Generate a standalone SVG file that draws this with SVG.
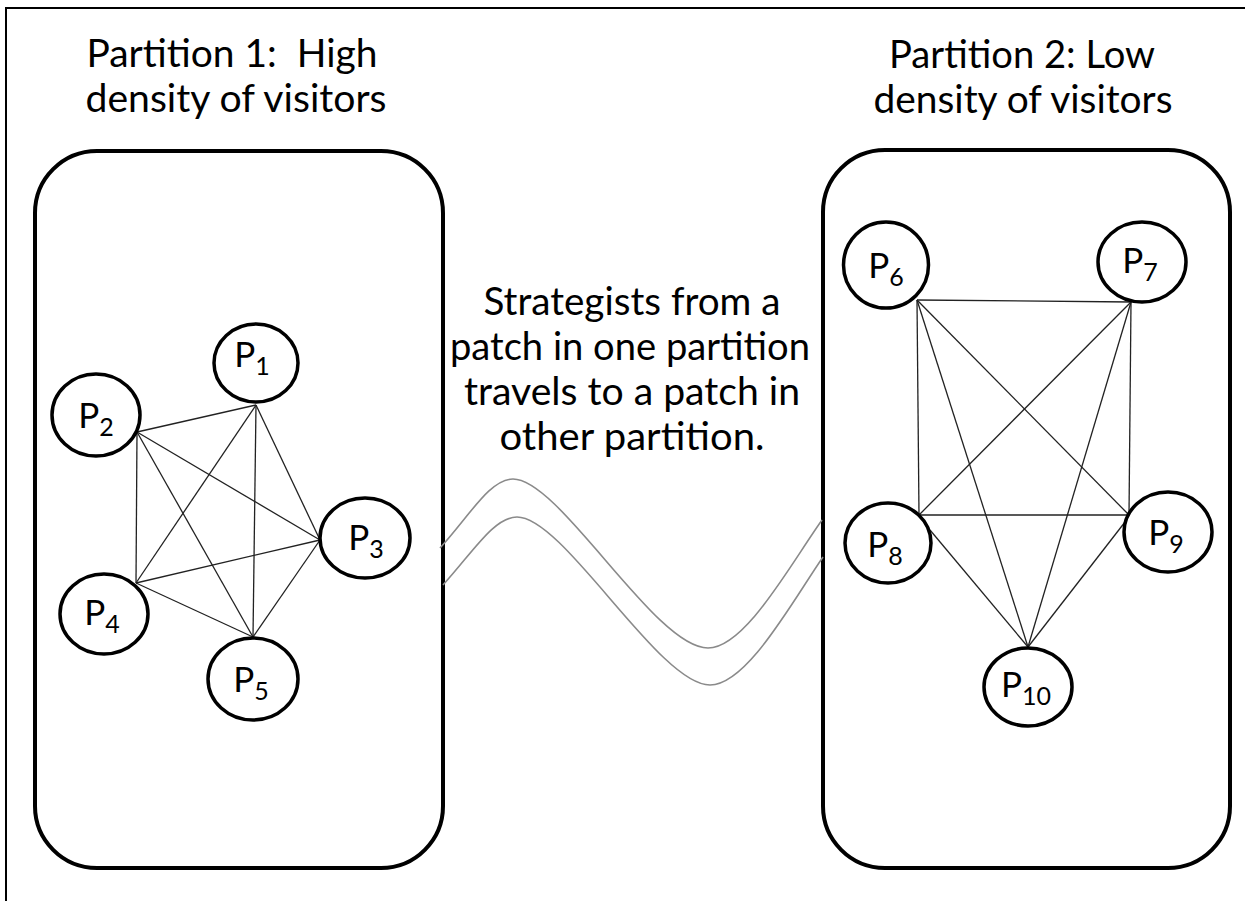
<svg xmlns="http://www.w3.org/2000/svg" width="1245" height="901" viewBox="0 0 1245 901">
<style>
.frame{fill:none;stroke:#000;stroke-width:2}
.box{fill:none;stroke:#000;stroke-width:4}
.node{fill:#fff;stroke:#000;stroke-width:3.5}
.edge{stroke:#222;stroke-width:1.3;fill:none}
.wave{stroke:#8a8a8a;stroke-width:1.6;fill:none}
.title{font-family:Lato,'Liberation Sans',sans-serif;font-size:38px;fill:#000}
.lbl{font-family:Lato,'Liberation Sans',sans-serif;font-size:35px;fill:#000;text-anchor:middle}
.sub{font-size:25px}
</style>
<rect width="1245" height="901" fill="#fff"/>
<path class="frame" d="M6,901 V8 H1245"/>
<g id="partition1">
<rect class="box" x="35" y="151" width="408" height="717" rx="62" ry="62"/>
<text class="title" xml:space="preserve" x="232" y="67" text-anchor="middle" textLength="291" lengthAdjust="spacingAndGlyphs">Partition 1:  High</text>
<text class="title" x="236" y="112" text-anchor="middle" textLength="301" lengthAdjust="spacingAndGlyphs">density of visitors</text>
</g>
<g id="partition2">
<rect class="box" x="823" y="150" width="407" height="718" rx="62" ry="62"/>
<text class="title" x="1022" y="68" text-anchor="middle" textLength="266" lengthAdjust="spacingAndGlyphs">Partition 2: Low</text>
<text class="title" x="1023" y="113" text-anchor="middle" textLength="299" lengthAdjust="spacingAndGlyphs">density of visitors</text>
</g>
<g id="caption">
<text class="title" x="632" y="315" text-anchor="middle" textLength="297" lengthAdjust="spacingAndGlyphs">Strategists from a</text>
<text class="title" x="630" y="360" text-anchor="middle" textLength="360" lengthAdjust="spacingAndGlyphs">patch in one partition</text>
<text class="title" x="632" y="405" text-anchor="middle" textLength="336" lengthAdjust="spacingAndGlyphs">travels to a patch in</text>
<text class="title" x="632" y="450" text-anchor="middle" textLength="265" lengthAdjust="spacingAndGlyphs">other partition.</text>
</g>
<g id="connectors">
<line class="edge" x1="256" y1="405" x2="137" y2="432"/>
<line class="edge" x1="256" y1="405" x2="320" y2="540"/>
<line class="edge" x1="256" y1="405" x2="136" y2="583"/>
<line class="edge" x1="256" y1="405" x2="253" y2="637"/>
<line class="edge" x1="137" y1="432" x2="136" y2="583"/>
<line class="edge" x1="137" y1="432" x2="320" y2="540"/>
<line class="edge" x1="137" y1="432" x2="253" y2="637"/>
<line class="edge" x1="136" y1="583" x2="320" y2="540"/>
<line class="edge" x1="136" y1="583" x2="253" y2="637"/>
<line class="edge" x1="320" y1="540" x2="253" y2="637"/>
<line class="edge" x1="917" y1="300" x2="1131" y2="302"/>
<line class="edge" x1="917" y1="300" x2="919" y2="515"/>
<line class="edge" x1="917" y1="300" x2="1129" y2="515"/>
<line class="edge" x1="917" y1="300" x2="1028" y2="647"/>
<line class="edge" x1="1131" y1="302" x2="1129" y2="515"/>
<line class="edge" x1="1131" y1="302" x2="919" y2="515"/>
<line class="edge" x1="1131" y1="302" x2="1028" y2="647"/>
<line class="edge" x1="919" y1="515" x2="1129" y2="515"/>
<line class="edge" x1="930" y1="530" x2="1028" y2="647"/>
<line class="edge" x1="1125" y1="522" x2="1028" y2="647"/>
<path class="wave" d="M440,548 C470,515 490,479 513,479 C560,479 655,648 708,648 C745,648 790,565 822,520"/>
<path class="wave" d="M443,585 C473,552 494,517 517,517 C564,517 659,685 710,685 C747,685 792,602 823,557"/>
</g>
<g id="P1"><ellipse class="node" cx="256" cy="363" rx="42" ry="39"/><text class="lbl" x="252" y="367">P<tspan class="sub" dy="8">1</tspan></text></g>
<g id="P2"><ellipse class="node" cx="96" cy="415" rx="44" ry="41"/><text class="lbl" x="96" y="428">P<tspan class="sub" dy="8">2</tspan></text></g>
<g id="P3"><ellipse class="node" cx="365" cy="538" rx="45" ry="40"/><text class="lbl" x="366" y="550">P<tspan class="sub" dy="8">3</tspan></text></g>
<g id="P4"><ellipse class="node" cx="104" cy="614" rx="44" ry="40"/><text class="lbl" x="102" y="625">P<tspan class="sub" dy="8">4</tspan></text></g>
<g id="P5"><ellipse class="node" cx="253" cy="679" rx="45" ry="41"/><text class="lbl" x="251" y="692">P<tspan class="sub" dy="8">5</tspan></text></g>
<g id="P6"><ellipse class="node" cx="886" cy="265" rx="42.5" ry="43"/><text class="lbl" x="886" y="278">P<tspan class="sub" dy="8">6</tspan></text></g>
<g id="P7"><ellipse class="node" cx="1142" cy="262" rx="44" ry="40"/><text class="lbl" x="1140" y="273">P<tspan class="sub" dy="8">7</tspan></text></g>
<g id="P8"><ellipse class="node" cx="888" cy="543" rx="43" ry="40"/><text class="lbl" x="885" y="557">P<tspan class="sub" dy="8">8</tspan></text></g>
<g id="P9"><ellipse class="node" cx="1168" cy="532" rx="44" ry="40"/><text class="lbl" x="1166" y="545">P<tspan class="sub" dy="8">9</tspan></text></g>
<g id="P10"><ellipse class="node" cx="1028" cy="687" rx="44" ry="39"/><text class="lbl" x="1026" y="697">P<tspan class="sub" dy="8">10</tspan></text></g>
</svg>
